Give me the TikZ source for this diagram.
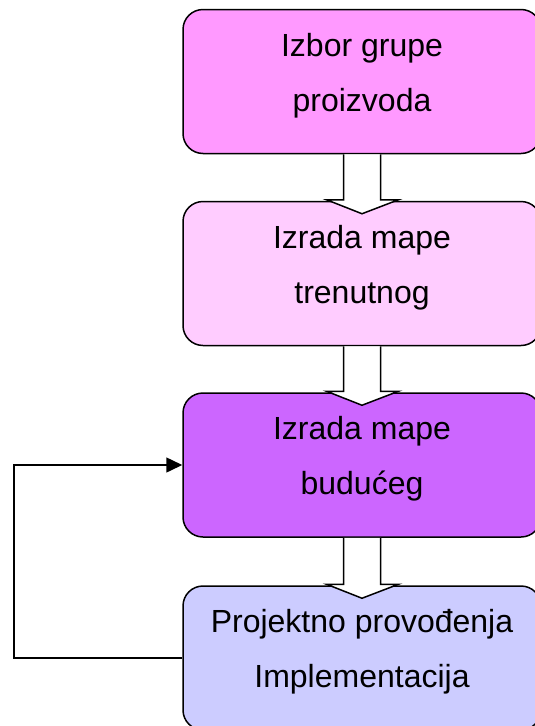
\documentclass[tikz,border=0pt]{standalone}
\usepackage{fontspec}
\setmainfont{Liberation Sans}
\usetikzlibrary{arrows.meta,calc}
\definecolor{cone}{HTML}{FF99FF}
\definecolor{ctwo}{HTML}{FFCCFF}
\definecolor{cthree}{HTML}{CC66FF}
\definecolor{cfour}{HTML}{CCCCFF}
\newcommand{\dstrut}{\rule[-19pt]{0pt}{0pt}}
\newcommand{\blockarrow}[2]{%
  \filldraw[line width=1.5pt,fill=white,line join=miter]
    ($(#1.south)+(-18.5,0)$) -- ($(#2.north)+(-18.5,1)$) -- ($(#2.north)+(-35.5,1)$)
    -- ($(#2.north)+(0,-13)$) -- ($(#2.north)+(36.5,1)$) -- ($(#2.north)+(18.5,1)$)
    -- ($(#1.south)+(18.5,0)$);}
\begin{document}
\begin{tikzpicture}[x=1pt,y=1pt,
  flowbox/.style={draw,line width=1.5pt,rounded corners=20pt,minimum width=358pt,
    minimum height=144pt,inner sep=0pt,align=center,
    font=\fontsize{32}{55}\selectfont}]
\useasboundingbox (0,0) rectangle (535,-726);
\node[flowbox,fill=cone]   (b1) at (362,-81.5) {Izbor grupe\\proizvoda\dstrut};
\node[flowbox,fill=ctwo]   (b2) at (362,-273.5) {Izrada mape\\trenutnog\dstrut};
\node[flowbox,fill=cthree] (b3) at (362,-465) {Izrada mape\\budućeg\dstrut};
\node[flowbox,fill=cfour]  (b4) at (362,-658) {Projektno provođenja\\Implementacija\dstrut};
\blockarrow{b1}{b2}
\blockarrow{b2}{b3}
\blockarrow{b3}{b4}
\coordinate (fb) at (14,-658);
\draw[line width=1.5pt,-{Triangle[length=16pt,width=15pt]}] (b4.west) -- (fb) |- (b3.west);
\end{tikzpicture}
\end{document}
